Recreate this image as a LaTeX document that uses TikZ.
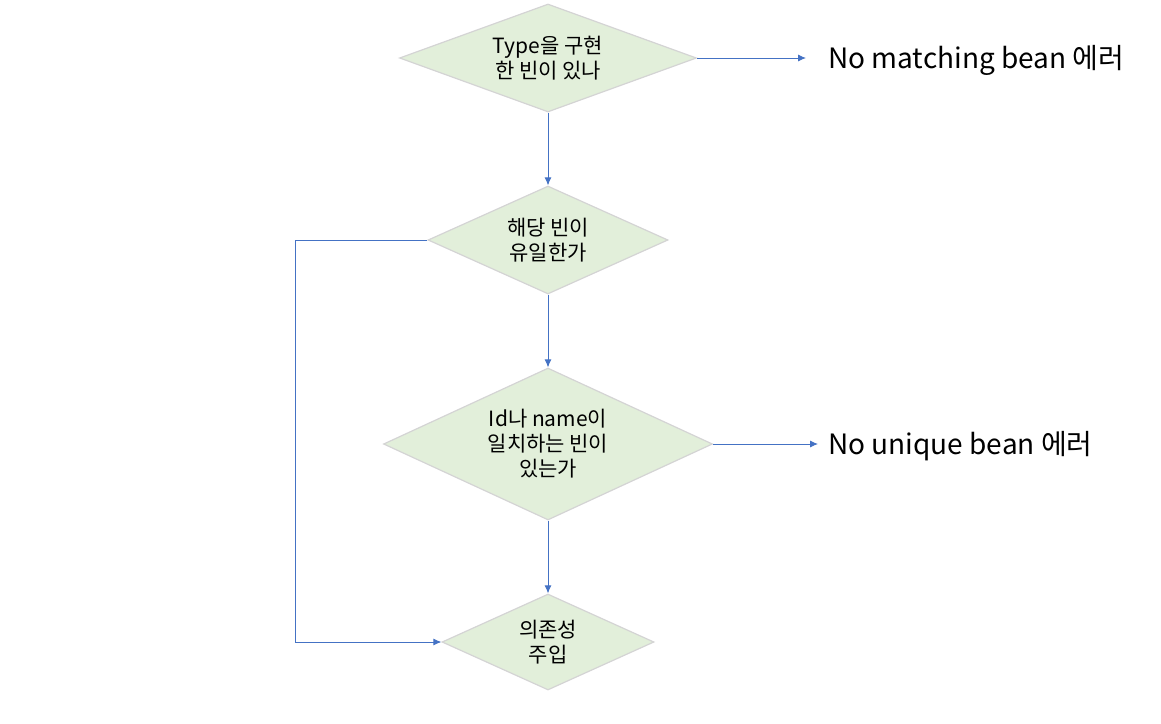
\documentclass[tikz,border=0pt]{standalone}
\usepackage{fontspec}
\setmainfont{Noto Sans CJK KR}
\usetikzlibrary{shapes.geometric,arrows.meta}
\definecolor{decfill}{HTML}{E2EFDA}
\definecolor{decline}{HTML}{D4D4D4}
\definecolor{flowblue}{HTML}{4472C4}

\begin{document}
\begin{tikzpicture}[x=1pt,y=-1pt,
  decision/.style={diamond,draw=decline,line width=1.2pt,fill=decfill,inner sep=0pt},
  dtext/.style={align=center,font=\fontsize{21}{25}\selectfont},
  flow/.style={draw=flowblue,line width=0.9pt,-{Latex[length=8pt,width=7pt]}},
  result/.style={anchor=west,font=\fontsize{28}{30}\selectfont,inner sep=0pt}]
\useasboundingbox (0,0) rectangle (1161,723);

\node[decision,minimum width=297pt,minimum height=108pt,
  label={[dtext]center:Type을 구현\\한 빈이 있나}] (hasType) at (548,58) {};
\node[decision,minimum width=240pt,minimum height=108pt,
  label={[dtext]center:해당 빈이\\유일한가}] (isUnique) at (548,240) {};
\node[decision,minimum width=329pt,minimum height=152pt,
  label={[dtext]center:Id나 name이\\일치하는 빈이\\있는가}] (hasName) at (548,444) {};
\node[decision,minimum width=212pt,minimum height=96pt,
  label={[dtext]center:의존성\\주입}] (inject) at (548,642) {};

\coordinate (noMatchEnd) at (806,58);
\coordinate (noUniqueEnd) at (818,444);
\node[result] (noMatch) at (828,60) {No matching bean 에러};
\node[result] (noUnique) at (828,446) {No unique bean 에러};

\draw[flow] (hasType) -- (isUnique);
\draw[flow] (isUnique) -- (hasName);
\draw[flow] (hasName) -- (inject);
\draw[flow] (hasType.east) -- (noMatchEnd);
\draw[flow] (hasName.east) -- (noUniqueEnd);
\draw[flow] (isUnique.west) -- (295,240) |- (inject.west);
\end{tikzpicture}
\end{document}
